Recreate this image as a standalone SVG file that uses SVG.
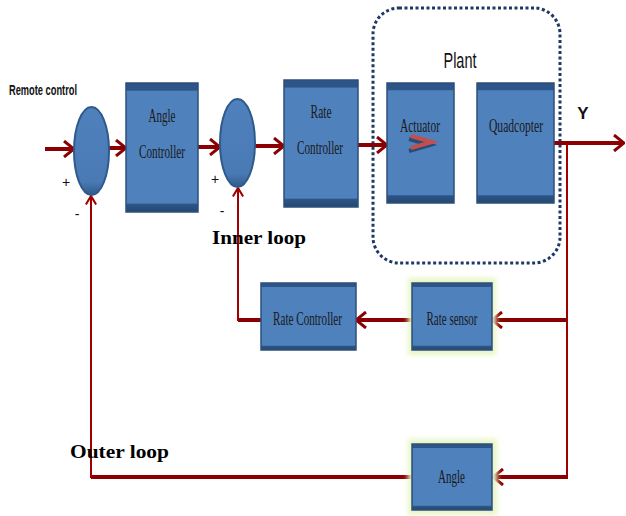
<svg xmlns="http://www.w3.org/2000/svg" width="626" height="516" viewBox="0 0 626 516">
<defs>
<linearGradient id="boxg" x1="0" y1="0" x2="0" y2="1">
<stop offset="0" stop-color="#2D5587"/>
<stop offset="0.055" stop-color="#2D5587"/>
<stop offset="0.065" stop-color="#4F81BD"/>
<stop offset="0.93" stop-color="#4F81BD"/>
<stop offset="0.94" stop-color="#2D5587"/>
<stop offset="1" stop-color="#24476F"/>
</linearGradient>
<linearGradient id="ellg" x1="0" y1="0" x2="0" y2="1">
<stop offset="0" stop-color="#4F81BD"/>
<stop offset="0.85" stop-color="#4A7AB4"/>
<stop offset="1" stop-color="#2F5A8C"/>
</linearGradient>
<filter id="glow" x="-20%" y="-20%" width="140%" height="140%">
<feGaussianBlur stdDeviation="2.5"/>
</filter>
<marker id="ah" viewBox="0 0 12 18" refX="11" refY="9" markerWidth="12" markerHeight="18" markerUnits="userSpaceOnUse" orient="auto">
<path d="M1,1 L11,9 L1,17" fill="none" stroke="#8B0000" stroke-width="3"/>
</marker>
<marker id="ahs" viewBox="0 0 12 14" refX="11" refY="7" markerWidth="12" markerHeight="12" markerUnits="userSpaceOnUse" orient="auto">
<path d="M1,1 L11,7 L1,13" fill="none" stroke="#A00000" stroke-width="2.5"/>
</marker>
</defs>
<style>
.box{fill:url(#boxg);stroke:#2C4F7C;stroke-width:1.5}
.ell{fill:url(#ellg);stroke:#2F5A8C;stroke-width:2}
.lbl{font-family:"Liberation Serif",serif;font-size:19px;fill:#1a1a1a}
.thick{fill:none;stroke:#8B0000;stroke-width:4}
.thin{fill:none;stroke:#A00000;stroke-width:2}
.bold{font-family:"Liberation Serif",serif;font-weight:bold;font-size:19px;fill:#000}
.sans{font-family:"Liberation Sans",sans-serif;fill:#111}
.glow{fill:#E8F6C4;filter:url(#glow)}
</style>
<rect width="626" height="516" fill="#fff"/>

<g id="plant">
<rect x="373" y="8" width="187" height="255" rx="26" fill="none" stroke="#1F3864" stroke-width="3" stroke-dasharray="3 2.5"/>
<text class="sans" x="460" y="68" font-size="22" text-anchor="middle" textLength="33" lengthAdjust="spacingAndGlyphs">Plant</text>
</g>

<g id="connectors">
<line class="thick" x1="45" y1="149" x2="74" y2="149" marker-end="url(#ah)"/>
<line class="thick" x1="109" y1="148" x2="126" y2="148" marker-end="url(#ah)"/>
<line class="thick" x1="198" y1="147" x2="220" y2="147" marker-end="url(#ah)"/>
<line class="thick" x1="255" y1="146" x2="284" y2="146" marker-end="url(#ah)"/>
<line class="thick" x1="358" y1="145" x2="387" y2="145" marker-end="url(#ah)"/>
<line class="thick" x1="554" y1="143" x2="624" y2="143" marker-end="url(#ah)"/>
<polyline class="thin" points="567,144 567,477"/>
<line class="thick" x1="567" y1="320" x2="492" y2="320" marker-end="url(#ah)"/>
<line class="thick" x1="412" y1="320" x2="356" y2="320" marker-end="url(#ah)"/>
<polyline class="thick" points="261,320 238,320"/>
<line class="thin" x1="238" y1="321" x2="238" y2="188" marker-end="url(#ahs)"/>
<line class="thick" x1="568" y1="477" x2="493" y2="477" marker-end="url(#ah)"/>
<polyline class="thick" points="412,477 91,477"/>
<line class="thin" x1="91" y1="478" x2="91" y2="196" marker-end="url(#ahs)"/>
</g>

<g id="sum1">
<ellipse class="ell" cx="91.5" cy="151" rx="17.5" ry="44"/>
<text class="sans" x="66" y="187" font-size="14" text-anchor="middle">+</text>
<text class="sans" x="77" y="219" font-size="14" text-anchor="middle">-</text>
</g>
<g id="sum2">
<ellipse class="ell" cx="237.5" cy="143" rx="17.5" ry="44"/>
<text class="sans" x="215" y="184" font-size="14" text-anchor="middle">+</text>
<text class="sans" x="222" y="216" font-size="14" text-anchor="middle">-</text>
</g>

<g id="angle-controller">
<rect class="box" x="126" y="83" width="72" height="129"/>
<text class="lbl" x="162" y="122" text-anchor="middle" textLength="27" lengthAdjust="spacingAndGlyphs">Angle</text>
<text class="lbl" x="162" y="158" text-anchor="middle" textLength="46" lengthAdjust="spacingAndGlyphs">Controller</text>
</g>

<g id="rate-controller">
<rect class="box" x="284" y="80" width="74" height="127"/>
<text class="lbl" x="321" y="118" text-anchor="middle" textLength="21" lengthAdjust="spacingAndGlyphs">Rate</text>
<text class="lbl" x="320" y="154" text-anchor="middle" textLength="46" lengthAdjust="spacingAndGlyphs">Controller</text>
</g>

<g id="actuator">
<rect class="box" x="387" y="83" width="67" height="120"/>
<text class="lbl" x="420" y="132" text-anchor="middle" textLength="40" lengthAdjust="spacingAndGlyphs">Actuator</text>
<polyline points="409,139 430,145 409,151" fill="none" stroke="#2A4A78" stroke-width="4"/>
<polyline points="411,136 432,142 411,148" fill="none" stroke="#C0504D" stroke-width="4"/>
</g>

<g id="quadcopter">
<rect class="box" x="477" y="83" width="77" height="120"/>
<text class="lbl" x="516" y="132" text-anchor="middle" textLength="54" lengthAdjust="spacingAndGlyphs">Quadcopter</text>
</g>

<g id="rate-controller-2">
<rect class="box" x="261" y="283" width="95" height="67"/>
<text class="lbl" x="307.5" y="325" text-anchor="middle" textLength="69" lengthAdjust="spacingAndGlyphs">Rate Controller</text>
</g>

<g id="rate-sensor">
<rect class="glow" x="408" y="278" width="88" height="77"/>
<rect class="box" x="412" y="283" width="80" height="67"/>
<text class="lbl" x="452" y="325" text-anchor="middle" textLength="51" lengthAdjust="spacingAndGlyphs">Rate sensor</text>
</g>

<g id="angle">
<rect class="glow" x="408" y="439" width="89" height="76"/>
<rect class="box" x="412" y="444" width="80" height="66"/>
<text class="lbl" x="451.5" y="483" text-anchor="middle" textLength="27" lengthAdjust="spacingAndGlyphs">Angle</text>
</g>

<g id="labels">
<text class="sans" x="9" y="95" font-size="15" font-weight="bold" textLength="68" lengthAdjust="spacingAndGlyphs">Remote control</text>
<text class="sans" x="583" y="119" font-size="17" font-weight="bold" text-anchor="middle">Y</text>
<text class="bold" x="212" y="244" textLength="94" lengthAdjust="spacingAndGlyphs">Inner loop</text>
<text class="bold" x="70" y="458" textLength="99" lengthAdjust="spacingAndGlyphs">Outer loop</text>
</g>
</svg>
